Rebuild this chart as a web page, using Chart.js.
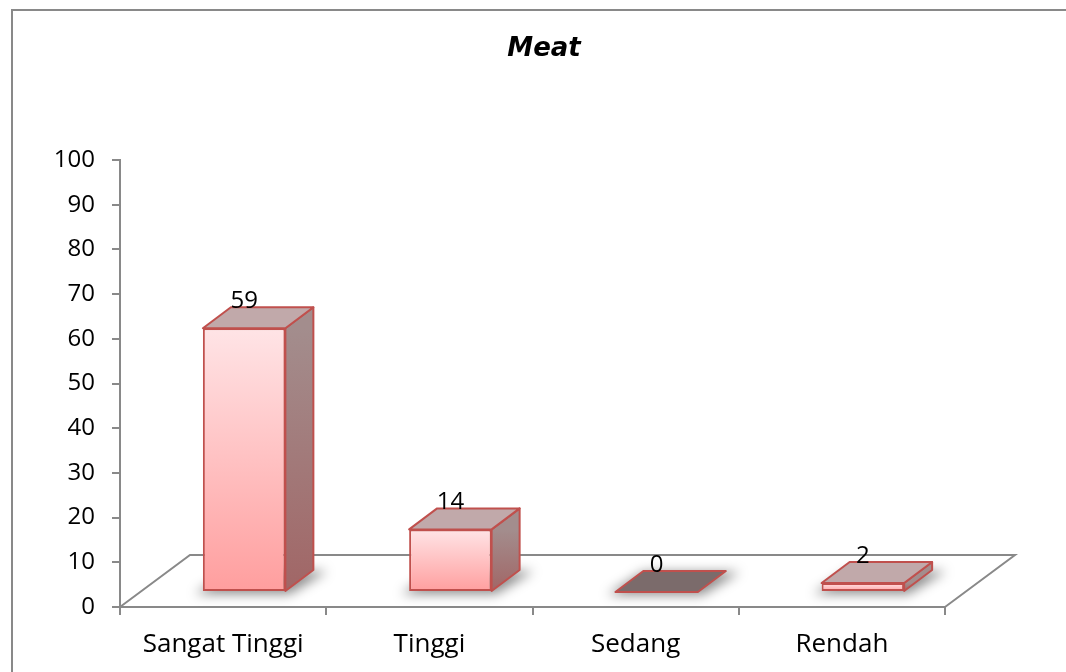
<!DOCTYPE html>
<html>
<head>
<meta charset="utf-8">
<script src="https://cdn.jsdelivr.net/npm/chart.js@4.4.1/dist/chart.umd.min.js"></script>
<style>
  body { margin: 0; background: #fff; }
  #wrap { width: 1066px; height: 672px; }
</style>
</head>
<body>
<div id="wrap"><canvas id="myChart" width="1066" height="672"></canvas></div>
<script>
const categories = ['Sangat Tinggi', 'Tinggi', 'Sedang', 'Rendah']
const values = [59, 14, 0, 2]
const yMin = 0
const yMax = 100
const yStep = 10
const chartTitle = 'Meat'

const font = 'Open Sans'
const titleFont = 'DejaVu Sans'
const axisGrey = '#898989'
const barRed = '#c0504d'

// offsets used for the fake 3d look
const frontShift = { x: 21, y: -15 }
const barDepth = { x: 28, y: -21 }
const floorDepth = { x: 70, y: -52 }

const poly = (ctx, pts) => {
    ctx.beginPath()
    pts.forEach((p, i) => (i ? ctx.lineTo(p[0], p[1]) : ctx.moveTo(p[0], p[1])))
    ctx.closePath()
}

const frontFill = context => {
    const chart = context.chart
    const y = chart.scales.y
    if (!chart.chartArea || !y) return '#ffb0b0'
    const top = y.getPixelForValue(context.raw)
    const bottom = y.getPixelForValue(0)
    if (bottom - top < 1) return '#ffa0a0'
    const g = chart.ctx.createLinearGradient(0, top, 0, bottom)
    g.addColorStop(0, '#ffe4e6')
    g.addColorStop(1, '#ff9e9e')
    return g
}

const fake3d = {
    id: 'fake3d',
    beforeDraw(chart) {
        const ctx = chart.ctx
        ctx.save()
        ctx.strokeStyle = axisGrey
        ctx.lineWidth = 2
        ctx.strokeRect(12, 10, chart.width, chart.height)
        // title, centred on the whole frame
        ctx.font = `italic bold 26px "${titleFont}"`
        ctx.fillStyle = '#000'
        ctx.textAlign = 'center'
        ctx.textBaseline = 'middle'
        ctx.fillText(chartTitle, 544, 49)
        ctx.restore()
    },
    beforeDatasetsDraw(chart) {
        const ctx = chart.ctx
        const a = chart.chartArea
        // floor
        ctx.save()
        ctx.strokeStyle = axisGrey
        ctx.lineWidth = 2
        ctx.beginPath()
        ctx.moveTo(a.left, a.bottom)
        ctx.lineTo(a.left + floorDepth.x, a.bottom + floorDepth.y)
        ctx.lineTo(a.right + floorDepth.x, a.bottom + floorDepth.y)
        ctx.lineTo(a.right, a.bottom)
        ctx.stroke()
        ctx.restore()

        // restored in afterDatasetsDraw
        ctx.save()
        ctx.translate(frontShift.x, frontShift.y)
        const dx = barDepth.x
        const dy = barDepth.y
        chart.getDatasetMeta(0).data.forEach((bar, i) => {
            const { x, y, base, width } = bar.getProps(['x', 'y', 'base', 'width'], true)
            const l = x - width / 2
            const r = x + width / 2

            ctx.save()
            ctx.filter = 'blur(6px)'
            ctx.fillStyle = 'rgba(0,0,0,0.45)'
            poly(ctx, [[l - 8, base + 3], [r + 4, base + 3], [r + dx + 14, base + dy + 1], [l + dx, base + dy + 1]])
            ctx.fill()
            ctx.restore()

            ctx.lineWidth = 2
            ctx.lineJoin = 'round'
            ctx.strokeStyle = barRed
            if (base - y > 0.5) {
                const g = ctx.createLinearGradient(0, y, 0, base)
                g.addColorStop(0, '#a38d8d')
                g.addColorStop(1, '#a16666')
                ctx.fillStyle = g
                poly(ctx, [[r, y], [r + dx, y + dy], [r + dx, base + dy], [r, base]])
                ctx.fill()
                ctx.stroke()
            }
            ctx.fillStyle = values[i] === 0 ? '#7b6b6b' : '#c1a9aa'
            poly(ctx, [[l, y], [r, y], [r + dx, y + dy], [l + dx, y + dy]])
            ctx.fill()
            ctx.stroke()
        })
    },
    afterDatasetsDraw(chart) {
        const ctx = chart.ctx
        ctx.restore()
        ctx.save()
        ctx.font = `24px "${font}"`
        ctx.fillStyle = '#000'
        ctx.textAlign = 'center'
        ctx.textBaseline = 'middle'
        chart.getDatasetMeta(0).data.forEach((bar, i) => {
            const { x, y } = bar.getProps(['x', 'y'], true)
            ctx.fillText(String(values[i]), x + frontShift.x, y + frontShift.y - 27)
        })
        ctx.restore()
    }
}

const ctx = document.getElementById('myChart').getContext('2d')
const chart = new Chart(ctx, {
    type: 'bar',
    data: {
        labels: categories,
        datasets: [
            {
                data: values,
                backgroundColor: frontFill,
                borderColor: barRed,
                borderWidth: 2,
                borderSkipped: false,
                barPercentage: 0.8,
                categoryPercentage: 0.5,
                clip: false
            }
        ]
    },
    options: {
        responsive: false,
        animation: false,
        devicePixelRatio: 1,
        layout: {
            padding: { top: 160, right: 121, left: 0, bottom: 0 }
        },
        scales: {
            x: {
                grid: {
                    drawOnChartArea: false,
                    color: axisGrey,
                    lineWidth: 2,
                    tickLength: 8
                },
                border: { color: axisGrey, width: 2 },
                ticks: {
                    color: '#000',
                    padding: 14,
                    font: { family: font, size: 26 }
                },
                afterFit: scale => {
                    scale.height = 65
                }
            },
            y: {
                min: yMin,
                max: yMax,
                grid: {
                    drawOnChartArea: false,
                    color: axisGrey,
                    lineWidth: 2,
                    tickLength: 8
                },
                border: { color: axisGrey, width: 2 },
                ticks: {
                    stepSize: yStep,
                    color: '#000',
                    padding: 17,
                    font: { family: font, size: 24 }
                },
                afterFit: scale => {
                    scale.width = 120
                }
            }
        },
        plugins: {
            legend: { display: false },
            tooltip: { enabled: false },
            title: { display: false }
        }
    },
    plugins: [fake3d]
})
</script>
</body>
</html>
